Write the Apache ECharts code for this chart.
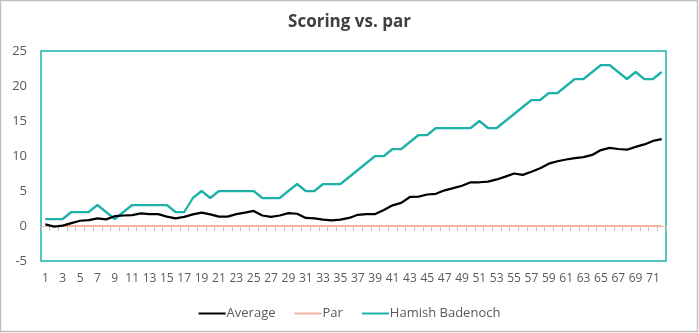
<!DOCTYPE html>
<html><head><meta charset="utf-8">
<script src="https://cdn.jsdelivr.net/npm/echarts@6/dist/echarts.min.js"></script>
<style>html,body{margin:0;padding:0;background:#fff}#c{width:699px;height:333px}</style>
</head><body><div id="c"></div>
<script>
const holes = Array.from({length:72},(_,i)=>String(i+1));
const average = [0.25,-0.1,0.05,0.4,0.75,0.85,1.1,0.95,1.4,1.5,1.55,1.8,1.7,1.7,1.35,1.1,1.3,1.65,1.9,1.65,1.35,1.35,1.7,1.9,2.15,1.5,1.3,1.5,1.85,1.75,1.15,1.1,0.9,0.8,0.9,1.15,1.6,1.7,1.7,2.3,2.95,3.3,4.15,4.2,4.5,4.6,5.1,5.4,5.75,6.25,6.25,6.35,6.65,7.05,7.5,7.3,7.75,8.25,8.9,9.25,9.5,9.7,9.85,10.15,10.85,11.15,11.0,10.9,11.3,11.65,12.15,12.4];
const par = holes.map(()=>0);
const hamish = [1,1,1,2,2,2,3,2,1,2,3,3,3,3,3,2,2,4,5,4,5,5,5,5,5,4,4,4,5,6,5,5,6,6,6,7,8,9,10,10,11,11,12,13,13,14,14,14,14,14,15,14,14,15,16,17,18,18,19,19,20,21,21,22,23,23,22,21,22,21,21,22];
const yTicks = {min:-5,max:25,interval:5};

const font = '"Open Sans", "Noto Sans", sans-serif';
const chart = echarts.init(document.getElementById('c'), null, {renderer:'canvas'});
chart.setOption({
  animation:false,
  backgroundColor:'#fff',
  title:{text:'Scoring vs. par',left:'center',top:9,textStyle:{fontFamily:font,fontSize:17,fontWeight:'bold',color:'#404040'}},
  legend:{top:302,left:'center',itemWidth:27,itemHeight:2,itemGap:19,icon:'rect',
    textStyle:{fontFamily:font,fontSize:13,color:'#595959',padding:[0,0,0,-4]},
    data:['Average','Par','Hamish Badenoch']},
  grid:{left:41,right:33,top:51,bottom:72,show:true,borderColor:'#1DB1AA',borderWidth:1.5,backgroundColor:'transparent'},
  xAxis:{type:'category',data:holes,boundaryGap:true,
    axisLine:{show:true,onZero:true,lineStyle:{color:'#F6B39C'}},
    axisTick:{show:true,interval:0,length:5,lineStyle:{color:'#BFBFBF'}},
    axisLabel:{interval:1,margin:12,fontFamily:font,fontSize:12,color:'#595959'},
    splitLine:{show:false}},
  yAxis:{type:'value',min:yTicks.min,max:yTicks.max,interval:yTicks.interval,
    axisLine:{show:false},axisTick:{show:false},splitLine:{show:false},
    axisLabel:{margin:14,fontFamily:font,fontSize:13,color:'#595959'}},
  series:[
    {name:'Average',type:'line',data:average,symbol:'none',lineStyle:{color:'#000',width:2.25},itemStyle:{color:'#000'},z:4},
    {name:'Par',type:'line',data:par,symbol:'none',lineStyle:{color:'#F6B39C',width:2},itemStyle:{color:'#F6B39C'},z:2},
    {name:'Hamish Badenoch',type:'line',data:hamish,symbol:'none',lineStyle:{color:'#1DB1AA',width:2.25},itemStyle:{color:'#1DB1AA'},z:3}
  ],
  graphic:[{type:'rect',shape:{x:0.5,y:0.5,width:697,height:331},style:{fill:'none',stroke:'#BFBFBF',lineWidth:1.5},silent:true}]
});
</script></body></html>
